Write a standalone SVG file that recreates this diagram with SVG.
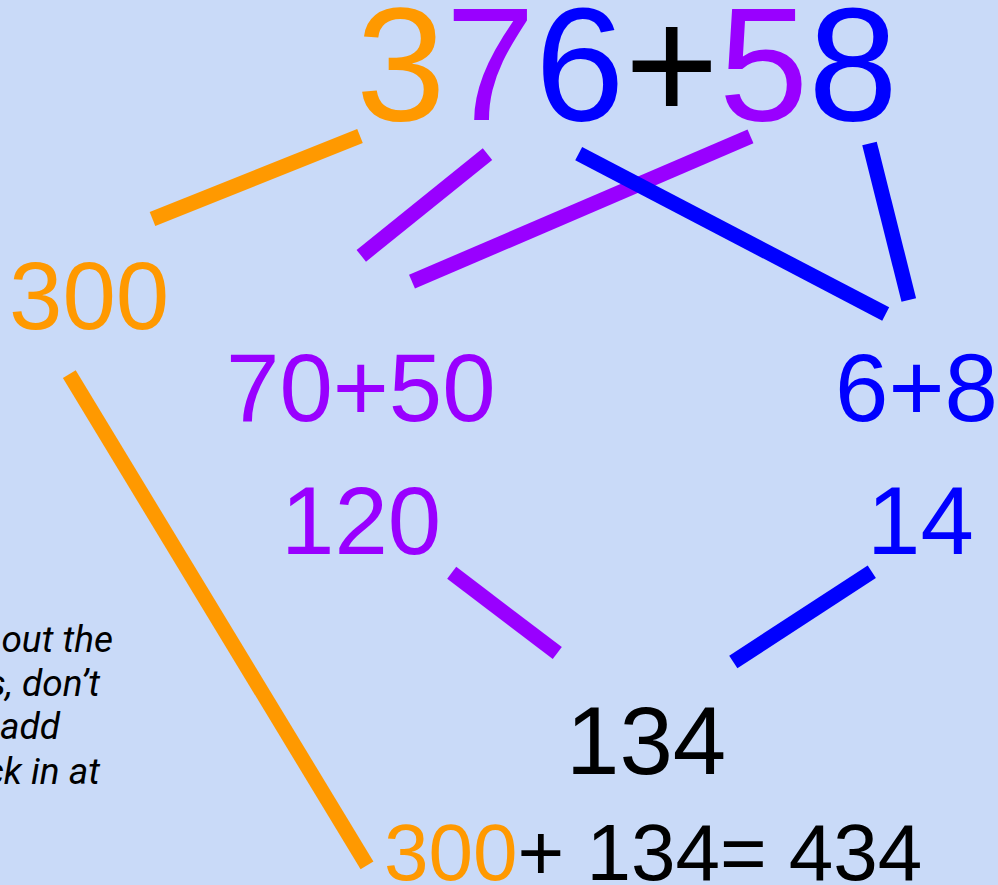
<svg xmlns="http://www.w3.org/2000/svg" width="998" height="885" viewBox="0 0 998 885">
<style>
.n{font-family:"Liberation Sans",Arial,sans-serif;font-size:96px}
.o{fill:#ff9900}.p{fill:#9900ff}.b{fill:#0000ff}.k{fill:#000000}
.note{font-family:Roboto,"Noto Sans",sans-serif;font-style:italic;font-size:37px;fill:#000;text-anchor:end}
.c line{stroke-width:15;stroke-linecap:butt}
.lo{stroke:#ff9900}.lp{stroke:#9900ff}.lb{stroke:#0000ff}
</style>
<rect width="998" height="885" fill="#c9daf8"/>
<g id="top"><text class="n" x="356" y="120" style="font-size:161px"><tspan class="o">3</tspan><tspan class="p">7</tspan><tspan class="b">6</tspan><tspan class="k">+</tspan><tspan class="p">5</tspan><tspan class="b">8</tspan></text></g>
<g id="n300"><text class="n o" x="9" y="329">300</text></g>
<g id="n7050"><text class="n p" x="226" y="421">70+50</text></g>
<g id="n68"><text class="n b" x="835" y="421">6+8</text></g>
<g id="n120"><text class="n p" x="281" y="554">120</text></g>
<g id="n14"><text class="n b" x="867" y="554">14</text></g>
<g id="n134"><text class="n k" x="566" y="774">134</text></g>
<g id="result"><text class="n" x="384" y="880" style="font-size:80px"><tspan class="o">300</tspan><tspan class="k">+ 134= 434</tspan></text></g>
<g id="note">
<text class="note" x="113" y="652">out the</text>
<text class="note" x="100" y="696">s, don’t</text>
<text class="note" x="60" y="739">add</text>
<text class="note" x="100" y="784">ck in at</text>
</g>
<g id="connectors" class="c">
<line class="lo" x1="152.5" y1="219" x2="360" y2="136"/>
<line class="lo" x1="69.3" y1="374.2" x2="367" y2="865.3"/>
<line class="lp" x1="361.3" y1="255.8" x2="487.5" y2="154.2"/>
<line class="lp" x1="412" y1="281.7" x2="750.5" y2="136.3"/>
<line class="lb" x1="578.7" y1="153.7" x2="885.7" y2="314"/>
<line class="lb" x1="869.5" y1="143.5" x2="908.8" y2="300"/>
<line class="lp" x1="451.7" y1="572.8" x2="557.3" y2="653"/>
<line class="lb" x1="733.3" y1="662" x2="871.8" y2="571.7"/>
</g>
</svg>
